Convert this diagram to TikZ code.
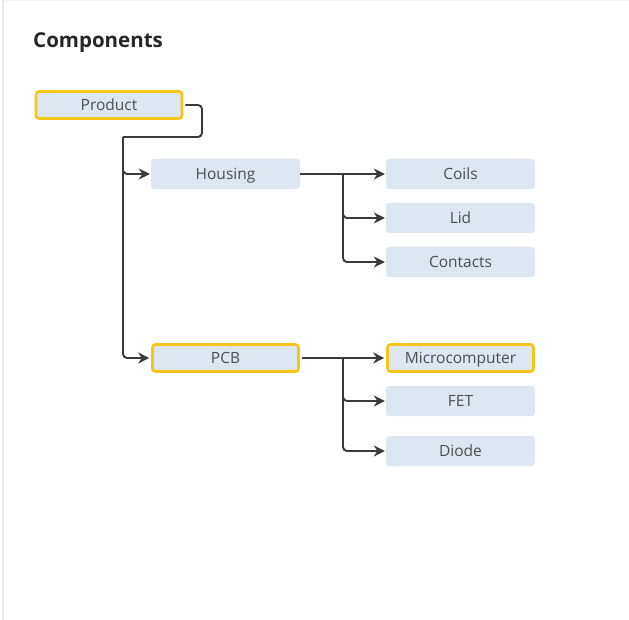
\documentclass[tikz,border=0pt]{standalone}
\usepackage{fontspec}
\setmainfont{Open Sans}
\usetikzlibrary{arrows.meta}
\definecolor{boxfill}{HTML}{DDE7F2}
\definecolor{hilite}{HTML}{F5C518}
\definecolor{ink}{HTML}{3A3A3A}
\definecolor{edge}{HTML}{EBEBEB}
\begin{document}
\begin{tikzpicture}[x=1pt,y=-1pt,
  part/.style={fill=boxfill, rounded corners=3pt, minimum width=149pt, minimum height=30pt,
    inner sep=0pt, text height=11pt, text depth=0pt, text=ink!90,
    font=\fontsize{15.5}{18}\selectfont},
  keypart/.style={part, draw=hilite, line width=2.6pt, minimum width=146pt, minimum height=27pt},
  conn/.style={draw=ink, line width=1.9pt, rounded corners=4pt,
    -{Stealth[length=11pt,width=11pt]}},
  link/.style={draw=ink, line width=1.9pt, rounded corners=4pt}]
\useasboundingbox (0,0) rectangle (629,620);
\fill[white] (0,0) rectangle (629,620);
\fill[edge] (2,0) rectangle (4,620);
\fill[edge!60] (4,0) rectangle (629,1.5);

\node[anchor=base west, inner sep=0pt, text=black!85, font=\fontsize{20.5}{24}\selectfont\bfseries] (title) at (33,48) {Components};

\node[keypart] (prod) at (109,105) {Product};
\node[part] (hous) at (225.5,174) {Housing};
\node[keypart] (pcb) at (225.5,358) {PCB};

\node[part] (coils) at (460.5,174) {Coils};
\node[part] (lid) at (460.5,218) {Lid};
\node[part] (cont) at (460.5,262) {Contacts};

\node[keypart] (micro) at (460.5,358) {Microcomputer};
\node[part] (fet) at (460.5,401) {FET};
\node[part] (diode) at (460.5,451) {Diode};

% trunk from the product down to its two assemblies
\coordinate (bend) at (123,137);
\draw[link] ([xshift=2pt]prod.east) -| (202,137) -- (bend);
\draw[conn] (bend) |- ([xshift=-1pt]hous.west);
\draw[conn] (bend) |- ([xshift=-2pt]pcb.west);

% housing branches
\coordinate (hj) at (343,174);
\draw[link] (hous.east) -- (hj);
\draw[conn] (hj) -- ([xshift=-1pt]coils.west);
\draw[conn] (hj) |- ([xshift=-1pt]lid.west);
\draw[conn] (hj) |- ([xshift=-1pt]cont.west);

% pcb branches
\coordinate (pj) at (343,358);
\draw[link] ([xshift=2pt]pcb.east) -- (pj);
\draw[conn] (pj) -- ([xshift=-2pt]micro.west);
\draw[conn] (pj) |- ([xshift=-1pt]fet.west);
\draw[conn] (pj) |- ([xshift=-1pt]diode.west);
\end{tikzpicture}
\end{document}
